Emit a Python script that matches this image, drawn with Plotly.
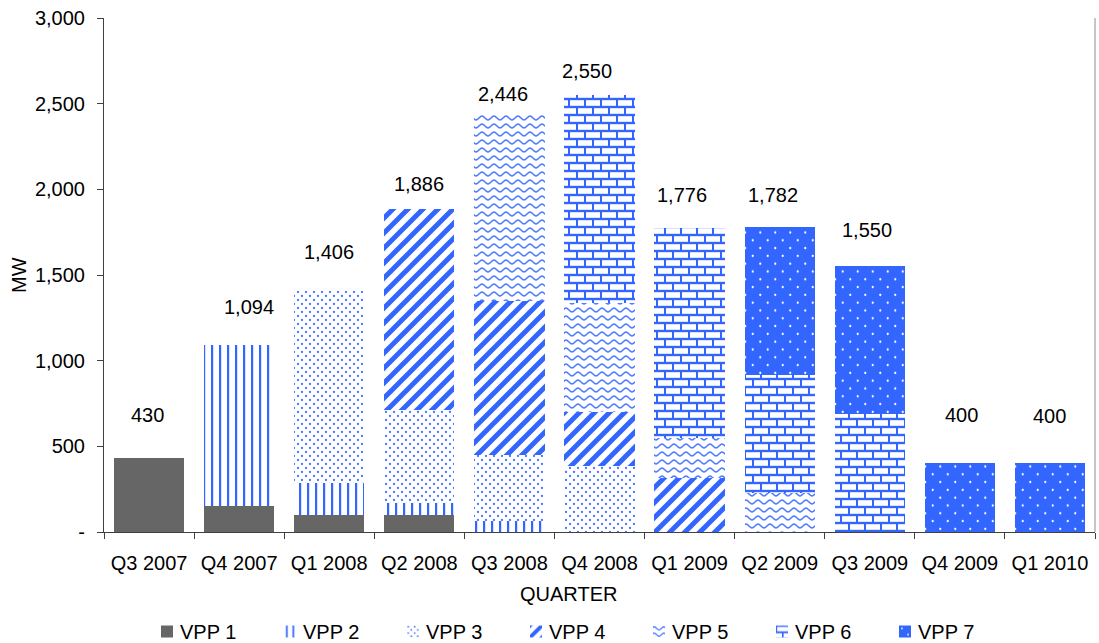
import plotly.graph_objects as go

# Quarterly capacity by auction product (MW)
quarters = ["Q3 2007", "Q4 2007", "Q1 2008", "Q2 2008", "Q3 2008", "Q4 2008",
            "Q1 2009", "Q2 2009", "Q3 2009", "Q4 2009", "Q1 2010"]
series_names = ["VPP 1", "VPP 2", "VPP 3", "VPP 4", "VPP 5", "VPP 6", "VPP 7"]
vpp1 = [430, 150, 100, 100, 0, 0, 0, 0, 0, 0, 0]
vpp2 = [0, 944, 186, 70, 63, 0, 0, 0, 0, 0, 0]
vpp3 = [0, 0, 1120, 545, 389, 384, 0, 0, 0, 0, 0]
vpp4 = [0, 0, 0, 1171, 899, 318, 316, 0, 0, 0, 0]
vpp5 = [0, 0, 0, 0, 1095, 632, 234, 229, 0, 0, 0]
vpp6 = [0, 0, 0, 0, 0, 1216, 1226, 690, 686, 0, 0]
vpp7 = [0, 0, 0, 0, 0, 0, 0, 863, 864, 400, 400]
y_tick_values = [0, 500, 1000, 1500, 2000, 2500, 3000]
y_tick_labels = ["-", "500", "1,000", "1,500", "2,000", "2,500", "3,000"]

all_series = [vpp1, vpp2, vpp3, vpp4, vpp5, vpp6, vpp7]
totals = [sum(col) for col in zip(*all_series)]

# Label offsets in pixels relative to the top of each stack
label_lift_px = [43, 38, 39, 25, 19, 24, 33, 32, 36, 48, 47]
label_nudge_px = [-2, 10, 0, 0, -6, -13, -8, -7, -3, 2, 0]

BLUE = "#3366FF"
GREY = "#666666"
FONT = "Liberation Sans, Arial, sans-serif"

# Built-in pattern per series (replaced by finer tiles after render)
base_patterns = [None, "|", ".", "/", "-", "+", "."]
pattern_uids = ["vppfillA", "vppfillB", "vppfillC", "vppfillD",
                "vppfillE", "vppfillF", "vppfillG"]

fig = go.Figure()
for name, vals, shape, uid in zip(series_names, all_series, base_patterns, pattern_uids):
    marker = dict(color=GREY if shape is None else BLUE, line=dict(width=0))
    if shape is not None:
        if name == "VPP 7":
            marker["pattern"] = dict(shape=shape, fillmode="replace", bgcolor=BLUE,
                                     fgcolor="white", size=12, solidity=0.15)
        else:
            marker["pattern"] = dict(shape=shape, fillmode="replace", bgcolor="white",
                                     fgcolor=BLUE, size=8, solidity=0.3)
    fig.add_trace(go.Bar(x=quarters, y=vals, name=name, uid=uid, marker=marker,
                         hoverinfo="skip"))

for q, tot, lift, nudge in zip(quarters, totals, label_lift_px, label_nudge_px):
    fig.add_annotation(x=q, y=tot, text=f"{tot:,}", showarrow=False,
                       xref="x", yref="y", yanchor="middle", yshift=lift, xshift=nudge,
                       font=dict(size=20, color="black", family=FONT))

fig.add_annotation(text="MW", textangle=-90, showarrow=False,
                   xref="paper", yref="paper", x=(19 - 104) / 991, y=0.5,
                   xanchor="center", yanchor="middle",
                   font=dict(size=20, color="black", family=FONT))
fig.add_annotation(text="QUARTER", showarrow=False,
                   xref="paper", yref="paper", x=(568 - 104) / 991, y=(532.5 - 594) / 514,
                   xanchor="center", yanchor="middle",
                   font=dict(size=20, color="black", family=FONT))

# Right-hand frame line of the plotting area
fig.add_shape(type="line", xref="paper", yref="paper", x0=1, x1=1, y0=0, y1=1,
              line=dict(color="#8c8c8c", width=1))

fig.update_layout(
    width=1099, height=643,
    margin=dict(l=104, r=4, t=18, b=111, autoexpand=False),
    paper_bgcolor="white", plot_bgcolor="white",
    font=dict(family=FONT, size=20, color="black"),
    barmode="stack", bargap=0.22,
    showlegend=True,
    legend=dict(orientation="h", x=(140 - 104) / 991, xanchor="left",
                y=(532.5 - 632) / 514, yanchor="middle",
                entrywidth=78, entrywidthmode="pixels", traceorder="normal",
                font=dict(size=20, family=FONT, color="black"),
                bgcolor="rgba(0,0,0,0)"),
    xaxis=dict(type="category", categoryorder="array", categoryarray=quarters,
               showline=True, linecolor="#404040", linewidth=1,
               ticks="outside", tickson="boundaries", ticklen=6, tickcolor="#404040",
               ticklabelstandoff=13,
               tickfont=dict(size=20, color="black", family=FONT),
               showgrid=False, zeroline=False),
    yaxis=dict(range=[0, 3000], tickvals=y_tick_values, ticktext=y_tick_labels,
               showline=True, linecolor="#404040", linewidth=1,
               ticks="outside", ticklen=6, tickcolor="#404040",
               ticklabelstandoff=8,
               tickfont=dict(size=20, color="black", family=FONT),
               showgrid=False, zeroline=False),
)

# Finer fill tiles for each product (stripes, dots, waves, bricks), and legend
# swatches sitting close to their labels
fill_tiles_js = r"""
var gd = document.getElementById('{plot_id}');
var B = '#3366FF', L = '#4a78ff';
var tiles = {
  vppfillB: [8, 8, '<rect width="8" height="8" fill="#fff"/><rect x="3" y="0" width="2.2" height="8" fill="' + B + '"/>'],
  vppfillC: [8, 8, '<rect width="8" height="8" fill="#fff"/><circle cx="2" cy="2" r="1.15" fill="' + L + '"/><circle cx="6" cy="6" r="1.15" fill="' + L + '"/>'],
  vppfillD: [15, 15, '<rect width="15" height="15" fill="#fff"/><path d="M-4,4L4,-4M0,15L15,0M11,19L19,11" stroke="' + B + '" stroke-width="5" fill="none"/>'],
  vppfillE: [12, 8, '<rect width="12" height="8" fill="#fff"/><path d="M0,6C2,6 4,2 6,2C8,2 10,6 12,6" stroke="' + L + '" stroke-width="1.5" fill="none"/>'],
  vppfillF: [16, 16, '<rect width="16" height="16" fill="' + B + '"/><rect x="2" y="2.2" width="14" height="5.6" fill="#fff"/><rect x="10" y="10.2" width="6" height="5.6" fill="#fff"/><rect x="0" y="10.2" width="8" height="5.6" fill="#fff"/>'],
  vppfillG: [15, 15.6, '<rect width="15" height="15.6" fill="' + B + '"/><circle cx="3.75" cy="3.9" r="1.1" fill="#fff"/><circle cx="11.25" cy="11.7" r="1.1" fill="#fff"/>']
};
function paintTiles() {
  gd.querySelectorAll('pattern').forEach(function (p) {
    Object.keys(tiles).forEach(function (k) {
      if (p.id.indexOf(k) !== -1) {
        var t = tiles[k];
        p.setAttribute('width', t[0]);
        p.setAttribute('height', t[1]);
        p.innerHTML = t[2];
      }
    });
  });
  gd.querySelectorAll('.legend .legendpoints').forEach(function (g) {
    g.setAttribute('transform', 'translate(7,0)');
  });
}
paintTiles();
gd.on('plotly_afterplot', paintTiles);
"""

fig.write_html("out.html", post_script=fill_tiles_js)
